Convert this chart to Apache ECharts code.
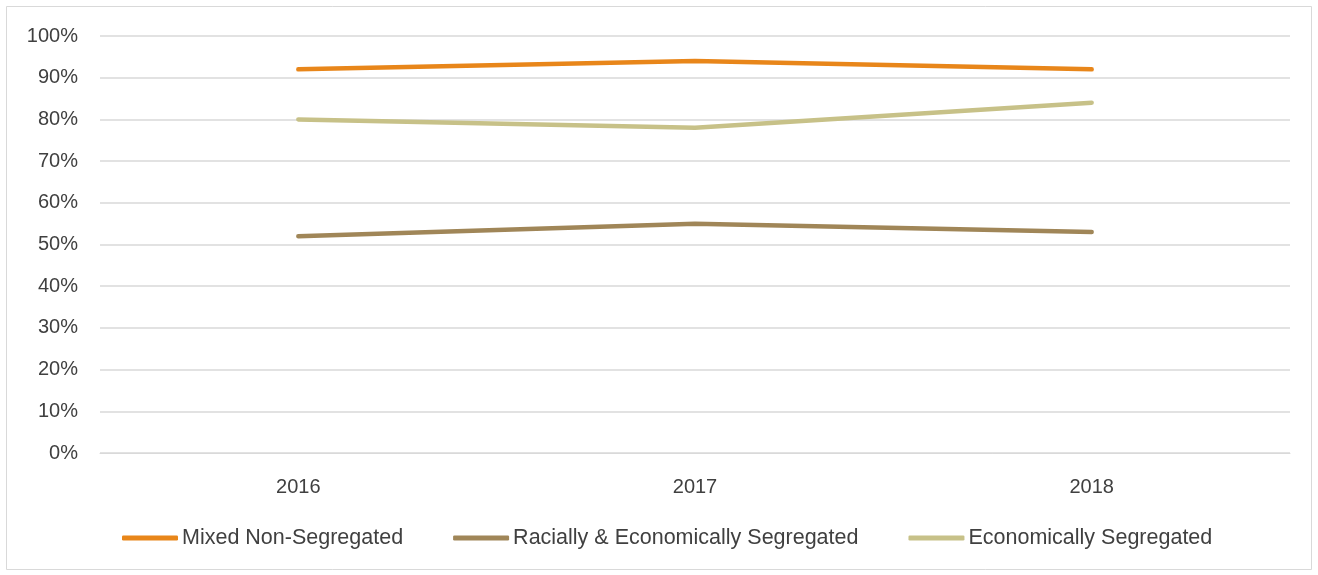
<!DOCTYPE html>
<html>
<head>
<meta charset="utf-8">
<script src="https://cdn.jsdelivr.net/npm/echarts@6/dist/echarts.min.js"></script>
<style>
  html, body { margin: 0; padding: 0; background: #fff; }
  #chart { width: 1318px; height: 575px; }
</style>
</head>
<body>
<div id="chart"></div>
<script>
// Category years and share values (%) per school type
const years = ['2016', '2017', '2018'];
const mixedNonSegregated = [92, 94, 92];
const raciallyEconomicallySegregated = [52, 55, 53];
const economicallySegregated = [80, 78, 84];
const seriesNames = ['Mixed Non-Segregated', 'Racially & Economically Segregated', 'Economically Segregated'];
const seriesColors = ['#E8861A', '#A08658', '#C7C188'];

const chart = echarts.init(document.getElementById('chart'), null, { renderer: 'canvas' });
const font = 'Liberation Sans, Arial, sans-serif';

function lineSeries(name, data, color) {
  return {
    name: name,
    type: 'line',
    data: data,
    symbol: 'none',
    smooth: false,
    lineStyle: { color: color, width: 4.5, cap: 'round', join: 'round' },
    itemStyle: { color: color }
  };
}

chart.setOption({
  animation: false,
  backgroundColor: '#fff',
  graphic: [{
    type: 'rect',
    shape: { x: 6.5, y: 6.5, width: 1305, height: 563 },
    style: { fill: 'none', stroke: '#d9d9d9', lineWidth: 1 },
    silent: true
  }],
  grid: { left: 100, right: 28, top: 36, bottom: 122 },
  legend: {
    data: seriesNames,
    bottom: 21,
    left: 117,
    itemWidth: 56,
    itemHeight: 5,
    itemGap: 50,
    icon: 'roundRect',
    textStyle: { fontFamily: font, fontSize: 21.5, color: '#404040', padding: [0, 0, 0, -1] }
  },
  xAxis: {
    type: 'category',
    data: years,
    boundaryGap: true,
    axisLine: { show: true, lineStyle: { color: '#d9d9d9', width: 1 } },
    axisTick: { show: false },
    axisLabel: { fontFamily: font, fontSize: 20, color: '#404040', margin: 24 }
  },
  yAxis: {
    type: 'value',
    min: 0,
    max: 100,
    interval: 10,
    axisLine: { show: false },
    axisTick: { show: false },
    axisLabel: { formatter: '{value}%', fontFamily: font, fontSize: 20, color: '#404040', margin: 22 },
    splitLine: { lineStyle: { color: '#d9d9d9', width: 1.5 } }
  },
  series: [
    lineSeries(seriesNames[0], mixedNonSegregated, seriesColors[0]),
    lineSeries(seriesNames[1], raciallyEconomicallySegregated, seriesColors[1]),
    lineSeries(seriesNames[2], economicallySegregated, seriesColors[2])
  ]
});
</script>
</body>
</html>
